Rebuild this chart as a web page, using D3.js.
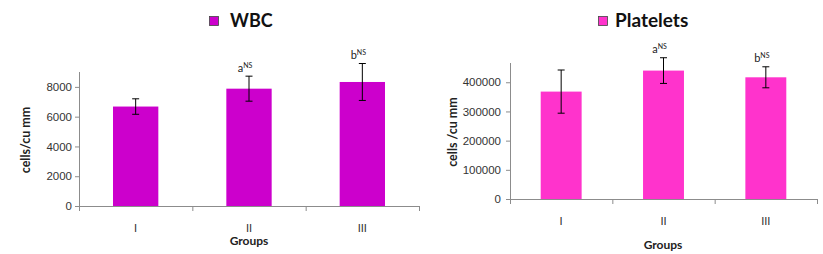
<!DOCTYPE html>
<html>
<head>
<meta charset="utf-8">
<script src="https://cdn.jsdelivr.net/npm/d3@7"></script>
<style>
  body { margin: 0; background: #fff; }
  svg { display: block; font-family: Lato, "Open Sans", sans-serif; }
</style>
</head>
<body>
<div id="chart"></div>
<script>
const groups = ["I", "II", "III"]

const wbcMeans = [6680, 7880, 8330]
const wbcErrors = [520, 840, 1240]
const wbcMarks = ["", "a", "b"]
const wbcTicks = [0, 2000, 4000, 6000, 8000]

const pltMeans = [368000, 440000, 417000]
const pltErrors = [74000, 44000, 36000]
const pltMarks = ["", "a", "b"]
const pltTicks = [0, 100000, 200000, 300000, 400000]

const svg = d3.select("#chart")
  .append("svg")
  .attr("width", 823)
  .attr("height", 254)

function drawChart(cfg) {
  const g = svg.append("g")

  const x = d3.scaleBand()
    .domain(groups)
    .range([cfg.left, cfg.right])
    .paddingInner(0.6)
    .paddingOuter(0.3)

  const y = d3.scaleLinear()
    .domain([0, cfg.max])
    .range([cfg.bottom, cfg.top])

  // y axis
  const yAxis = g.append("g")
    .attr("transform", `translate(${cfg.left},0)`)
    .call(d3.axisLeft(y).tickValues(cfg.ticks).tickSize(4).tickPadding(cfg.pad).tickFormat(d3.format("d")))
  yAxis.select(".domain").attr("stroke", "#8c8c8c").attr("d", `M0.5,${cfg.top}V${cfg.bottom}`)
  yAxis.selectAll(".tick line").attr("stroke", "#8c8c8c")
  yAxis.selectAll(".tick text").attr("fill", "#333").attr("font-size", 11.5)

  // x axis line with boundary ticks
  const step = x.step()
  g.append("path")
    .attr("stroke", "#8c8c8c")
    .attr("fill", "none")
    .attr("d", `M${cfg.left},${cfg.bottom + 0.5}H${cfg.right}`)
  g.selectAll(".bound")
    .data(d3.range(groups.length + 1))
    .join("line")
    .attr("x1", i => cfg.left + i * step + 0.5)
    .attr("x2", i => cfg.left + i * step + 0.5)
    .attr("y1", cfg.bottom)
    .attr("y2", cfg.bottom + 5)
    .attr("stroke", "#8c8c8c")

  g.selectAll(".cat")
    .data(groups)
    .join("text")
    .attr("x", d => x(d) + x.bandwidth() / 2)
    .attr("y", cfg.catY)
    .attr("text-anchor", "middle")
    .attr("font-size", 11)
    .attr("fill", "#333")
    .text(d => d)

  // bars
  g.selectAll(".bar")
    .data(cfg.means)
    .join("rect")
    .attr("x", (d, i) => x(groups[i]))
    .attr("y", d => y(d))
    .attr("width", x.bandwidth())
    .attr("height", d => y(0) - y(d))
    .attr("fill", cfg.color)

  // error bars
  cfg.means.forEach((m, i) => {
    const cx = x(groups[i]) + x.bandwidth() / 2
    const hi = y(m + cfg.errors[i])
    const lo = y(m - cfg.errors[i])
    g.append("path")
      .attr("stroke", "#000")
      .attr("fill", "none")
      .attr("d", `M${cx},${hi}V${lo}M${cx - 3.5},${hi}H${cx + 3.5}M${cx - 3.5},${lo}H${cx + 3.5}`)
    if (cfg.marks[i]) {
      const t = g.append("text")
        .attr("x", cx - 4)
        .attr("y", hi - 4.5)
        .attr("text-anchor", "middle")
        .attr("font-size", 11)
        .attr("fill", "#222")
      t.append("tspan").text(cfg.marks[i])
      t.append("tspan").attr("dy", -4).attr("font-size", 7).text("NS")
    }
  })

  // axis titles
  g.append("text")
    .attr("transform", `translate(${cfg.yTitleX},${cfg.yTitleY}) rotate(-90)`)
    .attr("text-anchor", "middle")
    .attr("dominant-baseline", "middle")
    .attr("font-size", 12.5)
    .attr("font-weight", 700)
    .attr("fill", "#222")
    .text(cfg.yTitle)

  g.append("text")
    .attr("x", cfg.xTitleX)
    .attr("y", cfg.xTitleY)
    .attr("text-anchor", "middle")
    .attr("font-size", 12)
    .attr("font-weight", 700)
    .attr("fill", "#222")
    .text("Groups")

  // legend / title
  g.append("rect")
    .attr("x", cfg.legX + 0.5)
    .attr("y", 16.5)
    .attr("width", 9)
    .attr("height", 9)
    .attr("fill", cfg.color)
    .attr("stroke", "#444")
    .attr("stroke-width", 0.8)
  g.append("text")
    .attr("x", cfg.legX + cfg.legGap)
    .attr("y", 27)
    .attr("font-size", cfg.titleSize)
    .attr("font-weight", 700)
    .attr("fill", "#111")
    .text(cfg.title)
}

drawChart({
  left: 79, right: 419, top: 72, bottom: 206, max: 9000,
  ticks: wbcTicks, pad: 3, means: wbcMeans, errors: wbcErrors, marks: wbcMarks,
  color: "#cc00cc", catY: 232, yTitle: "cells/cu mm", yTitleX: 27, yTitleY: 140,
  xTitleX: 249, xTitleY: 245, title: "WBC", legX: 209, legGap: 21, titleSize: 18
})

drawChart({
  left: 510, right: 817, top: 63, bottom: 199, max: 466000,
  ticks: pltTicks, pad: 5, means: pltMeans, errors: pltErrors, marks: pltMarks,
  color: "#ff33cc", catY: 225, yTitle: "cells /cu mm", yTitleX: 454, yTitleY: 132,
  xTitleX: 663, xTitleY: 249, title: "Platelets", legX: 598, legGap: 17, titleSize: 19
})
</script>
</body>
</html>
